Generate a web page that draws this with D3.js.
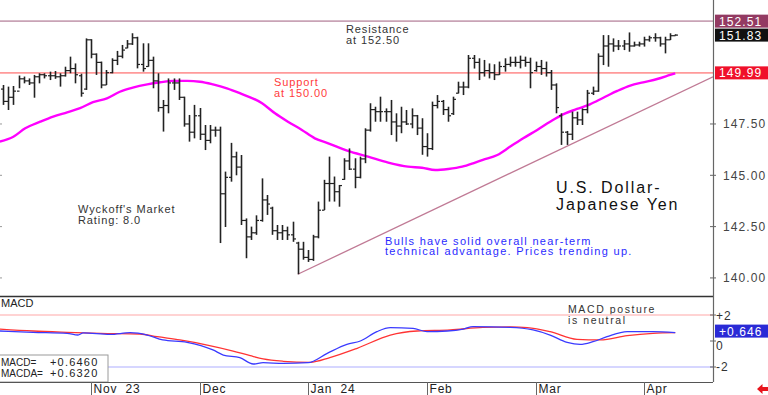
<!DOCTYPE html>
<html>
<head>
<meta charset="utf-8">
<script src="https://cdn.jsdelivr.net/npm/d3@7.9.0/dist/d3.min.js"></script>
<style>
  html, body { margin: 0; padding: 0; background: #fff; }
  svg { display: block; font-family: "Liberation Sans", Arial, sans-serif; }
</style>
</head>
<body>
<svg id="chart" width="768" height="395"></svg>
<script>
// ----------------------------- data -----------------------------
// daily USD/JPY bars, Oct 9 2023 .. Apr 9 2024 (index = trading day)
const opens = [149.2,148.6,148.8,149.1,149.7,149.6,149.5,149.8,149.9,149.85,
  149.85,149.8,149.85,150.1,150.2,149.85,149.2,151.6,150.9,150.5,
  149.4,150.0,150.6,150.8,151.2,151.4,151.7,150.4,150.3,150.6,
  149.6,148.3,148.4,149.5,149.5,148.8,147.5,147.1,147.9,147.0,
  146.7,147.2,147.2,144.1,144.9,145.9,145.4,142.8,142.0,142.2,
  142.8,143.8,143.4,142.3,142.2,142.3,142.1,141.7,141.4,141.0,
  140.9,142.0,143.3,144.6,144.6,144.2,144.8,145.7,145.3,144.9,
  145.8,147.2,148.2,148.1,148.1,148.1,147.6,147.4,147.6,147.5,
  147.9,147.3,146.4,146.3,148.4,148.6,148.2,148.0,149.0,149.3,
  149.3,150.7,150.5,150.0,150.1,150.0,149.9,150.3,150.4,150.5,
  150.5,150.6,150.5,150.1,150.3,150.2,150.0,149.4,147.9,147.1,
  147.0,147.8,147.7,148.2,149.0,149.1,150.8,151.3,151.4,151.3,
  151.3,151.4,151.3,151.35,151.4,151.6,151.7,151.7,151.4,151.6,151.8];
const highs = [149.40,149.32,149.35,149.86,149.81,149.72,149.89,149.97,149.97,150.05,
  150.08,149.97,150.29,150.78,150.45,149.95,151.67,151.63,150.94,150.54,
  150.13,150.70,151.06,151.35,151.59,151.92,151.75,151.43,151.43,150.78,
  149.97,148.67,149.72,149.72,149.72,148.83,147.94,148.43,148.28,147.45,
  147.45,147.37,147.37,145.18,146.58,146.15,145.99,142.90,142.50,143.05,
  144.85,144.04,143.47,142.58,142.58,142.50,142.74,141.76,141.76,141.36,
  142.10,143.72,144.78,145.91,144.94,144.53,145.83,146.31,145.83,145.91,
  147.29,148.51,148.34,148.83,148.26,148.67,148.02,148.34,148.18,148.26,
  147.94,147.78,147.05,148.59,148.91,148.67,148.34,148.83,149.56,149.56,
  150.86,150.86,150.70,150.62,150.45,150.41,150.54,150.70,150.78,150.78,
  150.83,150.78,150.73,150.54,150.62,150.54,150.13,149.48,148.02,147.16,
  148.10,148.10,148.26,149.16,149.32,150.94,151.83,151.83,151.67,151.59,
  151.59,151.96,151.51,151.51,151.75,151.80,151.92,151.75,151.75,151.92,151.87];
const lows = [148.43,148.18,148.43,149.24,149.48,149.40,148.78,149.48,149.72,149.64,
  149.70,149.32,149.81,149.97,149.48,148.83,149.16,150.70,149.89,149.24,
  149.40,149.97,150.37,150.70,151.19,151.35,150.21,150.05,150.29,149.24,
  148.10,147.13,148.02,149.16,148.67,147.37,146.64,146.80,146.72,146.23,
  146.56,146.88,141.70,142.48,144.69,145.00,142.58,140.96,141.85,142.10,
  142.74,143.07,142.10,141.85,141.85,141.85,141.76,140.18,140.89,140.78,
  140.83,141.93,143.31,143.72,143.72,143.47,144.78,145.26,144.37,144.85,
  145.59,147.13,147.61,147.61,147.61,146.96,146.64,147.05,147.45,147.29,
  146.96,146.00,145.91,146.23,148.26,147.94,147.61,147.94,148.99,148.91,
  149.24,150.20,149.64,149.81,149.72,149.64,149.89,150.05,150.29,150.29,
  150.21,150.29,149.24,150.05,149.89,149.81,149.16,148.02,146.48,146.48,
  146.72,147.45,147.45,148.02,148.91,149.07,150.37,150.29,151.02,151.10,
  151.10,151.02,151.27,151.27,151.27,151.51,151.51,151.27,150.94,151.59,151.80];
const closes = [148.6,148.8,149.1,149.7,149.6,149.5,149.8,149.9,149.85,149.85,
  149.8,149.85,150.1,150.2,149.9,149.0,151.6,150.9,150.5,149.4,
  150.0,150.6,150.8,151.1,151.4,151.7,150.4,150.2,150.6,149.6,
  148.3,148.4,149.5,149.5,148.8,147.5,147.1,147.9,147.0,146.7,
  147.2,147.2,144.1,144.9,145.9,145.4,142.8,142.0,142.2,142.8,
  143.8,143.6,142.3,142.2,142.3,142.1,141.9,141.4,141.0,140.9,
  142.0,143.3,144.6,144.6,144.2,144.5,145.7,145.3,144.9,145.8,
  147.2,148.2,148.1,148.1,148.1,147.6,147.4,147.6,147.5,147.9,
  147.3,146.4,146.3,148.4,148.6,148.2,147.9,148.7,149.3,149.3,
  150.7,150.5,150.0,150.1,150.0,149.9,150.3,150.4,150.5,150.5,
  150.6,150.5,150.0,150.3,150.2,150.0,149.4,148.3,147.1,147.0,
  147.8,147.7,148.2,149.0,149.1,150.8,151.3,151.4,151.3,151.3,
  151.4,151.3,151.35,151.4,151.6,151.7,151.7,151.4,151.6,151.8,151.83];

// moving average (magenta), sampled at bar indices
const maIdx = [-0.6,2,4.3,7.2,9.7,12.4,14.9,17.4,20.1,22.6,25.1,27.9,30.4,32.9,35.6,38.1,40.6,43.3,45.8,
  50.1,52.6,55.1,57.8,60.3,62.9,66.7,70.6,74.5,78.3,81,83.6,86.1,88.8,91.3,92.8,95.6,98.1,100.6,
  103.3,105.8,108.3,111,113.5,116.1,118.8,121.3,123.8,126.5,129,130];
const maVal = [146.64,146.88,147.29,147.61,147.86,148.07,148.27,148.56,148.75,149.07,149.27,149.43,149.53,149.60,149.60,149.56,149.43,149.24,149.00,
  148.51,148.02,147.61,147.21,146.80,146.56,146.19,145.91,145.62,145.42,145.37,145.26,145.31,145.42,145.62,145.75,145.99,146.40,146.80,
  147.21,147.61,147.97,148.23,148.46,148.78,149.11,149.37,149.53,149.69,149.89,149.97];

// MACD (blue) and MACDA (red)
const macdIdx = [-0.6,5.8,12.4,14.5,15.5,20.7,24.6,27.9,30.9,35.6,40.6,42.6,45.8,48.4,50.3,54.2,59,62.7,66.5,69.1,
  72.3,74.9,79.3,82,85.9,89,90.9,98.1,102.5,105.8,109.1,111.6,114.1,116.8,120.7,125.7,130];
const macdVal = [0.77,0.67,0.59,0.46,0.62,0.51,0.64,0.46,0.08,-0.10,-0.69,-1.08,-1.28,-1.77,-1.67,-1.72,-1.67,-0.95,-0.26,0,
  0.72,1.03,0.97,0.72,0.77,0.92,1.10,1.05,0.85,0.46,-0.10,-0.26,-0.05,0.33,0.72,0.72,0.65];
const sigIdx = [-0.6,5.8,12.4,18.8,26.5,29.8,34.2,39.5,44.5,47.8,50.3,54.2,59.4,63.2,68.5,74.9,80.1,86.5,92.8,98.1,
  101.4,105.8,111,115.5,120.7,125.7,130];
const sigVal = [0.92,0.77,0.67,0.59,0.54,0.33,0.08,-0.31,-0.77,-1.13,-1.38,-1.56,-1.64,-1.28,-0.56,0.46,0.77,0.85,1.05,1.08,
  1.03,0.72,0.13,0.08,0.41,0.59,0.64];

// levels and trend line
const resistance = 152.51;
const support = 149.99;
const lastClose = 151.83;
const lastMacd = 0.646;
const trendIdx = [57, 137.3];
const trendVal = [140.18, 149.8];

// axis ticks
const priceTicks = [140, 142.5, 145, 147.5];
const macdTicks = [{ v: 2, t: "+2" }, { v: 0, t: "0" }, { v: -2, t: "-2" }];
const monthIdx = [17, 38, 59, 82, 103, 124];
const monthLabels = ["Nov  23", "Dec", "Jan  24", "Feb", "Mar", "Apr"];

// ----------------------------- scales -----------------------------
const W = 768, plotR = 713, mainB = 296, macdB = 382;
const x = d3.scaleLinear().domain([-0.58, 137.3]).range([0, plotR]);
const y = d3.scaleLinear().domain([139.12, 153.54]).range([mainB, 0]);
const ym = d3.scaleLinear().domain([-3.154, 3.462]).range([macdB, mainB]);

const svg = d3.select("#chart");
svg.append("rect").attr("width", W).attr("height", 395).attr("fill", "#fff");

svg.append("defs").append("clipPath").attr("id", "clipMain")
  .append("rect").attr("x", 0).attr("y", 0).attr("width", plotR).attr("height", mainB);

const main = svg.append("g").attr("clip-path", "url(#clipMain)");

// horizontal levels
main.append("line").attr("x1", 0).attr("x2", plotR)
  .attr("y1", y(resistance)).attr("y2", y(resistance))
  .attr("stroke", "#c9a3b6").attr("stroke-width", 1.6);
main.append("line").attr("x1", 0).attr("x2", plotR)
  .attr("y1", y(support)).attr("y2", y(support))
  .attr("stroke", "#ff9a9a").attr("stroke-width", 1.8);

// trend line
main.append("line")
  .attr("x1", x(trendIdx[0])).attr("y1", y(trendVal[0]))
  .attr("x2", x(trendIdx[1])).attr("y2", y(trendVal[1]))
  .attr("stroke", "#c07a95").attr("stroke-width", 1.3);

// moving average
main.append("path")
  .datum(d3.zip(maIdx, maVal))
  .attr("fill", "none").attr("stroke", "#ff00ff").attr("stroke-width", 2.4)
  .attr("d", d3.line().x(d => x(d[0])).y(d => y(d[1])).curve(d3.curveMonotoneX));

// OHLC bars
const bars = main.append("g").attr("stroke", "#222").attr("stroke-width", 1.6);
highs.forEach((h, i) => {
  const cx = Math.round(x(i)) + 0.5;
  bars.append("line").attr("x1", cx).attr("x2", cx).attr("y1", y(h)).attr("y2", y(lows[i]));
  bars.append("line").attr("x1", cx - 2.5).attr("x2", cx).attr("y1", y(opens[i])).attr("y2", y(opens[i]))
    .attr("stroke-width", 1.2);
  bars.append("line").attr("x1", cx).attr("x2", cx + 2.5).attr("y1", y(closes[i])).attr("y2", y(closes[i]))
    .attr("stroke-width", 1.2);
});

// annotations
function note(lines, x0, y0, color, size, spacing, lh) {
  const t = svg.append("text").attr("fill", color).attr("font-size", size)
    .attr("letter-spacing", spacing);
  lines.forEach((s, k) => t.append("tspan").attr("x", x0).attr("y", y0 + k * lh).text(s));
}
note(["Resistance", "at 152.50"], 346, 33, "#333", 11, 0.9, 10.6);
note(["Support", "at 150.00"], 274, 86, "#ff3b3b", 11, 0.9, 10.6);
note(["Wyckoff's Market", "Rating: 8.0"], 78, 213, "#333", 11, 0.9, 10.6);
note(["Bulls have solid overall near-term", "technical advantage. Prices trending up."], 385, 244.5, "#2b2bff", 11, 1.3, 10.8);
note(["U.S. Dollar-", "Japanese Yen"], 556, 193, "#111", 16, 1.9, 16.8);
note(["MACD posture", "is neutral"], 568, 313, "#333", 10.5, 1.6, 10.6);

// ----------------------------- MACD panel -----------------------------
svg.append("line").attr("x1", 0).attr("x2", plotR).attr("y1", ym(2)).attr("y2", ym(2))
  .attr("stroke", "#ffc4c4").attr("stroke-width", 1.4);
svg.append("line").attr("x1", 0).attr("x2", plotR).attr("y1", ym(-2)).attr("y2", ym(-2))
  .attr("stroke", "#c8c8ff").attr("stroke-width", 1.4);

const mline = d3.line().x(d => x(d[0])).y(d => ym(d[1])).curve(d3.curveMonotoneX);
svg.append("path").datum(d3.zip(sigIdx, sigVal))
  .attr("fill", "none").attr("stroke", "#ff3333").attr("stroke-width", 1.3).attr("d", mline);
svg.append("path").datum(d3.zip(macdIdx, macdVal))
  .attr("fill", "none").attr("stroke", "#3a3aff").attr("stroke-width", 1.3).attr("d", mline);

svg.append("text").attr("x", 1).attr("y", 307).attr("font-size", 11).attr("fill", "#222").text("MACD");

// value box
svg.append("rect").attr("x", -1).attr("y", 355).attr("width", 109).attr("height", 27)
  .attr("fill", "#fff").attr("stroke", "#9a9a9a");
[["MACD=", "+0.6460", 366], ["MACDA=", "+0.6320", 377]].forEach(r => {
  svg.append("text").attr("x", 1).attr("y", r[2]).attr("font-size", 10)
    .attr("fill", "#222").text(r[0]);
  svg.append("text").attr("x", 50).attr("y", r[2]).attr("font-size", 11).attr("letter-spacing", 1.2)
    .attr("fill", "#222").text(r[1]);
});

// ----------------------------- frame & axes -----------------------------
svg.append("line").attr("x1", 0).attr("x2", plotR).attr("y1", mainB + 0.5).attr("y2", mainB + 0.5)
  .attr("stroke", "#333").attr("stroke-width", 1.3);
svg.append("line").attr("x1", 0).attr("x2", plotR).attr("y1", macdB + 0.5).attr("y2", macdB + 0.5)
  .attr("stroke", "#555").attr("stroke-width", 1.2);
svg.append("line").attr("x1", plotR + 0.5).attr("x2", plotR + 0.5).attr("y1", 0).attr("y2", macdB)
  .attr("stroke", "#666").attr("stroke-width", 1.2);

// price axis on the right
const yAxis = d3.axisRight(y).tickValues(priceTicks).tickSize(0).tickPadding(10)
  .tickFormat(d3.format(".2f"));
const ya = svg.append("g").attr("transform", `translate(${plotR},0)`).call(yAxis);
ya.select(".domain").remove();
ya.selectAll("text").attr("font-size", 12).attr("letter-spacing", 1.1).attr("fill", "#444")
  .attr("font-family", "Liberation Sans, Arial, sans-serif");
priceTicks.forEach(p => {
  svg.append("line").attr("x1", plotR - 3).attr("x2", plotR + 3).attr("y1", y(p)).attr("y2", y(p))
    .attr("stroke", "#666");
  svg.append("line").attr("x1", 0).attr("x2", 2).attr("y1", y(p)).attr("y2", y(p)).attr("stroke", "#999");
});

// macd axis
macdTicks.forEach(m => {
  svg.append("line").attr("x1", plotR - 3).attr("x2", plotR + 3).attr("y1", ym(m.v)).attr("y2", ym(m.v))
    .attr("stroke", "#666");
  const dy = m.v === 0 ? 8.5 : 4.5;
  svg.append("text").attr("x", plotR + 3).attr("y", ym(m.v) + dy).attr("font-size", 12)
    .attr("letter-spacing", 1).attr("fill", "#333").text(m.t);
});

// value badges on the right
function badge(yc, txt, bg) {
  svg.append("rect").attr("x", plotR + 2).attr("y", yc - 6.5).attr("width", W - plotR - 2).attr("height", 13)
    .attr("fill", bg);
  svg.append("text").attr("x", plotR + 6).attr("y", yc + 4.5).attr("font-size", 12)
    .attr("letter-spacing", 1.1).attr("fill", "#fff").text(txt);
}
badge(y(resistance), d3.format(".2f")(resistance), "#933a62");
badge(y(lastClose), d3.format(".2f")(lastClose), "#111");
badge(y(support), d3.format(".2f")(support), "#f0102a");
badge(ym(lastMacd) - 1.5, "+" + d3.format(".3f")(lastMacd), "#2a2ad6");

// month axis
monthIdx.forEach((mi, k) => {
  const mx = Math.round(x(mi)) + 0.5;
  svg.append("line").attr("x1", mx).attr("x2", mx).attr("y1", macdB).attr("y2", 395)
    .attr("stroke", "#666");
  svg.append("text").attr("x", mx + 2).attr("y", 393).attr("font-size", 12)
    .attr("letter-spacing", 0.8).attr("fill", "#222").attr("xml:space", "preserve").text(monthLabels[k]);
});

// red arrow at the bottom right
svg.append("path").attr("d", "M757,389 L762.5,384 L762.5,387 L768,387 L768,391 L762.5,391 L762.5,394 Z")
  .attr("fill", "#e8141c");
</script>
</body>
</html>
